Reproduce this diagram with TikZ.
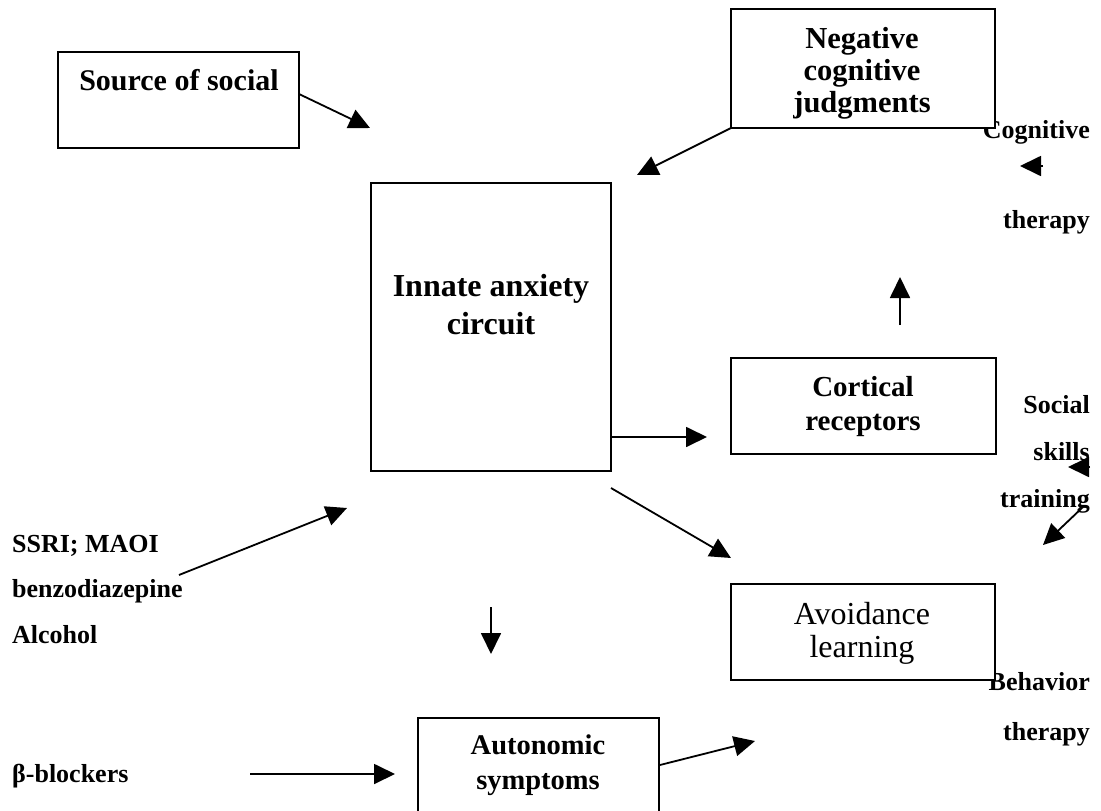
\documentclass[tikz,border=0pt]{standalone}
\usepackage{fontspec}
\setmainfont{Liberation Serif}
\usetikzlibrary{arrows.meta}
\tikzset{
  box/.style={draw, line width=1.8pt, fill=white, rectangle, inner sep=0pt, outer sep=0pt, anchor=north west},
  arr/.style={line width=1.8pt, -{Triangle[length=21pt,width=20pt]}},
  lbl/.style={inner sep=0pt, font=\bfseries\fontsize{30}{32}\selectfont, anchor=base},
  side/.style={inner sep=0pt, font=\bfseries\fontsize{26}{30}\selectfont},
}
\begin{document}
\begin{tikzpicture}[x=1pt,y=-1pt]
\useasboundingbox (0,0) rectangle (1101,811);
\clip (0,0) rectangle (1101,811);
% side labels (drawn first so boxes can overlap them)
\node[side, anchor=base east] (cog1) at (1090,138) {Cognitive};
\node[side, anchor=base east] (cog2) at (1090,228) {therapy};
\node[side, anchor=base east] (soc1) at (1090,413) {Social};
\node[side, anchor=base east] (soc2) at (1090,460) {skills};
\node[side, anchor=base east] (soc3) at (1090,507) {training};
\node[side, anchor=base east] (beh1) at (1090,690) {Behavior};
\node[side, anchor=base east] (beh2) at (1090,740) {therapy};
\node[side, anchor=base west] (drug1) at (12,552) {SSRI; MAOI};
\node[side, anchor=base west] (drug2) at (12,597) {benzodiazepine};
\node[side, anchor=base west] (drug3) at (12,643) {Alcohol};
\node[side, anchor=base west] (beta) at (12,782) {β-blockers};
% boxes
\node[box, minimum width=241pt, minimum height=96pt] (src) at (58,52) {};
\node[box, minimum width=264pt, minimum height=119pt] (neg) at (731,9) {};
\node[box, minimum width=240pt, minimum height=288pt] (innate) at (371,183) {};
\node[box, minimum width=265pt, minimum height=96pt] (cort) at (731,358) {};
\node[box, minimum width=264pt, minimum height=96pt] (avoid) at (731,584) {};
\node[box, minimum width=241pt, minimum height=97pt] (auto) at (418,718) {};
% box texts
\node[lbl] (srcT) at (179,90) {Source of social};
\node[lbl, font=\bfseries\fontsize{30.5}{32}\selectfont] (negT1) at (862,48) {Negative};
\node[lbl, font=\bfseries\fontsize{30.5}{32}\selectfont] (negT2) at (862,80) {cognitive};
\node[lbl, font=\bfseries\fontsize{30.5}{32}\selectfont] (negT3) at (862,112) {judgments};
\node[lbl, font=\bfseries\fontsize{32}{36}\selectfont] (innT1) at (491,296) {Innate anxiety};
\node[lbl, font=\bfseries\fontsize{32}{36}\selectfont] (innT2) at (491,334) {circuit};
\node[lbl, font=\bfseries\fontsize{29}{34}\selectfont] (corT1) at (863,396) {Cortical};
\node[lbl, font=\bfseries\fontsize{29}{34}\selectfont] (corT2) at (863,430) {receptors};
\node[lbl, font=\mdseries\fontsize{32}{36}\selectfont] (avoT1) at (862,624) {Avoidance};
\node[lbl, font=\mdseries\fontsize{32}{36}\selectfont] (avoT2) at (862,657) {learning};
\node[lbl, font=\bfseries\fontsize{28.5}{34}\selectfont] (autT1) at (538,754) {Autonomic};
\node[lbl, font=\bfseries\fontsize{28.5}{34}\selectfont] (autT2) at (538,789) {symptoms};
% arrow end points
\coordinate (a1s) at (299,94);   \coordinate (a1e) at (370,128);
\coordinate (a2e) at (637,175);
\coordinate (a3s) at (1043,166); \coordinate (a3e) at (1020,166);
\coordinate (a4s) at (900,325);  \coordinate (a4e) at (900,277);
\coordinate (a5s) at (611,437);  \coordinate (a5e) at (707,437);
\coordinate (a6s) at (611,488);  \coordinate (a6e) at (731,558);
\coordinate (a7s) at (1090,467); \coordinate (a7e) at (1068,467);
\coordinate (a8s) at (1083,507); \coordinate (a8e) at (1043,545);
\coordinate (a9s) at (179,575);  \coordinate (a9e) at (347,508);
\coordinate (a10s) at (491,607); \coordinate (a10e) at (491,654);
\coordinate (a11s) at (250,774); \coordinate (a11e) at (395,774);
\coordinate (a12s) at (660,765); \coordinate (a12e) at (755,741);
% arrows
\draw[arr] (a1s) -- (a1e);
\draw[arr] (neg.south west) -- (a2e);
\draw[arr] (a3s) -- (a3e);
\draw[arr] (a4s) -- (a4e);
\draw[arr] (a5s) -- (a5e);
\draw[arr] (a6s) -- (a6e);
\draw[arr] (a7s) -- (a7e);
\draw[arr] (a8s) -- (a8e);
\draw[arr] (a9s) -- (a9e);
\draw[arr] (a10s) -- (a10e);
\draw[arr] (a11s) -- (a11e);
\draw[arr] (a12s) -- (a12e);
\end{tikzpicture}
\end{document}
